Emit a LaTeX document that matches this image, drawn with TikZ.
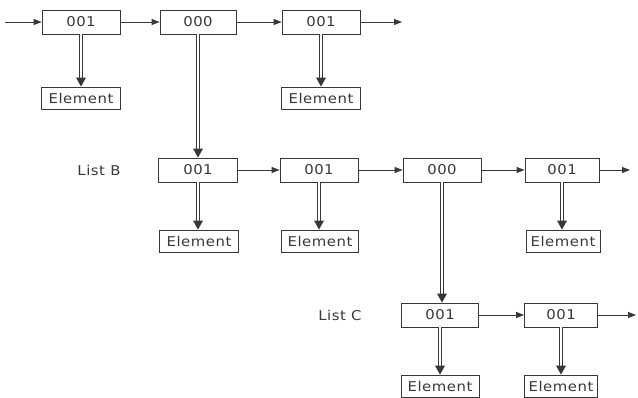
\documentclass[tikz,border=0pt]{standalone}
\usepackage{fontspec}
\setmainfont{DejaVu Sans}[FakeStretch=1.1, LetterSpace=4]
\usetikzlibrary{arrows.meta,calc}
\colorlet{ink}{black!78}
\newcommand\dlink[2]{%
  \draw[dbl] (#1.south) -- ($(#1.south |- #2.north)+(0,-6)$);
  \fill[ink] (#1.south |- #2.north) -- ++(-5,-9) -- ++(10,0) -- cycle;}
\begin{document}
\begin{tikzpicture}[x=1pt,y=-1pt,
  box/.style={draw=ink, line width=0.8pt, fill=white, minimum width=78pt, minimum height=24pt, inner sep=0pt, font=\fontsize{13.5}{13.5}\selectfont, text=ink},
  elem/.style={box, minimum width=79pt, minimum height=22pt},
  lbl/.style={font=\fontsize{13.5}{13.5}\selectfont, text=ink},
  link/.style={draw=ink, line width=0.8pt, -{Triangle[length=8pt,width=6pt]}},
  dbl/.style={draw=ink, double=white, double distance=2.6pt, line width=0.9pt}]
\useasboundingbox (0,0) rectangle (638,398);
% row A
\node[box] (a1) at (81,22) {001};
\node[box, minimum width=76pt] (a2) at (198,22) {000};
\node[box] (a3) at (321,22) {001};
\coordinate (ain) at (5,22);
\coordinate (aout) at (402,22);
\node[elem] (ea1) at (81,98) {Element};
\node[elem] (ea3) at (321,98) {Element};
% row B
\node[lbl] (lb) at (99,170) {List B};
\node[box, minimum width=79pt] (b1) at (198,170) {001};
\node[box] (b2) at (319,170) {001};
\node[box] (b3) at (442,170) {000};
\node[box, minimum width=74pt] (b4) at (562,170) {001};
\coordinate (bout) at (630,170);
\node[elem] (eb1) at (199,241) {Element};
\node[elem, minimum width=77pt] (eb2) at (320,241) {Element};
\node[elem, minimum width=74pt] (eb4) at (563,241) {Element};
% row C
\node[lbl] (lc) at (340,315) {List C};
\node[box, minimum width=77pt] (c1) at (440,315) {001};
\node[box, minimum width=73pt] (c2) at (561,315) {001};
\coordinate (cout) at (636,315);
\node[elem, minimum width=78pt] (ec1) at (440,386) {Element};
\node[elem, minimum width=73pt] (ec2) at (561,386) {Element};
% single links
\draw[link] (ain) -- (a1);
\draw[link] (a1) -- (a2);
\draw[link] (a2) -- (a3);
\draw[link] (a3) -- (aout);
\draw[link] (b1) -- (b2);
\draw[link] (b2) -- (b3);
\draw[link] (b3) -- (b4);
\draw[link] (b4) -- (bout);
\draw[link] (c1) -- (c2);
\draw[link] (c2) -- (cout);
% double links
\dlink{a1}{ea1}
\dlink{a2}{b1}
\dlink{a3}{ea3}
\dlink{b1}{eb1}
\dlink{b2}{eb2}
\dlink{b3}{c1}
\dlink{b4}{eb4}
\dlink{c1}{ec1}
\dlink{c2}{ec2}
\end{tikzpicture}
\end{document}
